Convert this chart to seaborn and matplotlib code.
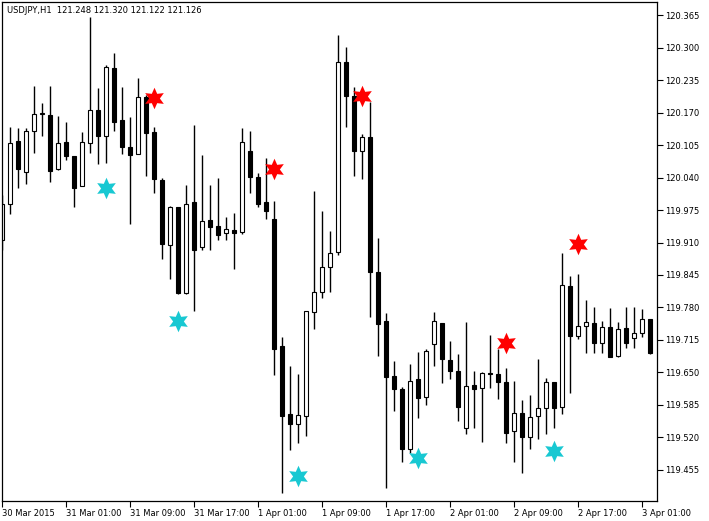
import numpy as np
import pandas as pd
import seaborn as sns
import matplotlib
matplotlib.use("Agg")
import matplotlib.pyplot as plt

opens = [119.915,119.987,120.113,120.051,120.133,120.168,120.165,120.057,120.111,120.083,
         120.023,120.109,120.175,120.123,120.259,120.155,120.101,120.087,120.201,120.131,
         120.035,119.905,119.981,119.809,119.991,119.901,119.955,119.943,119.929,119.935,
         119.931,120.093,120.041,119.991,119.957,119.703,119.566,119.546,119.562,119.771,
         119.811,119.861,119.891,120.271,120.203,120.093,120.121,119.851,119.753,119.643,
         119.616,119.496,119.636,119.600,119.707,119.749,119.675,119.653,119.538,119.624,
         119.618,119.649,119.647,119.631,119.532,119.568,119.520,119.562,119.578,119.631,
         119.580,119.823,119.723,119.743,119.749,119.709,119.741,119.682,119.739,119.719,
         119.729,119.757]
highs = [120.005,120.141,120.139,120.139,120.223,120.189,120.223,120.163,120.151,120.083,
         120.131,120.362,120.219,120.265,120.289,120.221,120.161,120.239,120.205,120.141,
         120.039,119.983,119.981,120.025,120.145,120.085,120.025,120.039,119.961,119.969,
         120.139,120.133,120.049,120.079,119.993,119.721,119.662,119.646,119.773,120.013,
         119.973,119.933,120.325,120.301,120.221,120.127,120.191,119.919,119.769,119.673,
         119.620,119.666,119.690,119.697,119.771,119.749,119.713,119.686,119.751,119.653,
         119.651,119.725,119.697,119.659,119.633,119.594,119.604,119.676,119.638,119.631,
         119.889,119.843,119.847,119.795,119.781,119.753,119.779,119.751,119.781,119.781,
         119.777,119.757]
lows = [119.895,119.967,120.019,120.027,120.089,120.123,120.031,120.055,120.075,119.981,
        120.023,120.089,120.067,120.069,120.133,120.087,119.947,120.087,120.043,120.009,
        119.877,119.837,119.807,119.807,119.773,119.895,119.895,119.915,119.915,119.857,
        119.927,120.009,119.981,119.957,119.645,119.408,119.494,119.508,119.522,119.737,
        119.799,119.811,119.885,120.141,120.043,120.037,119.761,119.682,119.418,119.572,
        119.470,119.488,119.558,119.584,119.662,119.629,119.637,119.552,119.526,119.538,
        119.510,119.618,119.596,119.508,119.470,119.448,119.496,119.516,119.526,119.538,
        119.566,119.608,119.717,119.688,119.688,119.688,119.680,119.680,119.699,119.699,
        119.721,119.686]
closes = [119.987,120.109,120.057,120.133,120.167,120.169,120.053,120.109,120.083,120.019,
          120.111,120.175,120.123,120.261,120.151,120.101,120.085,120.201,120.129,120.037,
          119.907,119.981,119.809,119.987,119.895,119.953,119.941,119.925,119.937,119.929,
          120.111,120.041,119.987,119.973,119.697,119.562,119.546,119.564,119.773,119.811,
          119.861,119.889,120.271,120.203,120.093,120.121,119.851,119.747,119.641,119.616,
          119.496,119.632,119.598,119.693,119.753,119.677,119.653,119.580,119.622,119.616,
          119.649,119.647,119.631,119.528,119.568,119.520,119.560,119.578,119.631,119.578,
          119.825,119.723,119.743,119.751,119.709,119.741,119.680,119.737,119.709,119.729,
          119.757,119.688]

up_star_bars = [19, 34, 45, 63, 72]
up_star_prices = [120.199, 120.057, 120.203, 119.709, 119.907]
dn_star_bars = [13, 22, 37, 52, 69]
dn_star_prices = [120.019, 119.753, 119.442, 119.478, 119.492]

time_labels = ['30 Mar 2015', '31 Mar 01:00', '31 Mar 09:00', '31 Mar 17:00',
               '1 Apr 01:00', '1 Apr 09:00', '1 Apr 17:00', '2 Apr 01:00',
               '2 Apr 09:00', '2 Apr 17:00', '3 Apr 01:00']
price_ticks = [119.455, 119.520, 119.585, 119.650, 119.715, 119.780, 119.845,
               119.910, 119.975, 120.040, 120.105, 120.170, 120.235, 120.300, 120.365]
header = "USDJPY,H1  121.248 121.320 121.122 121.126"

sns.set_style("white")
plt.rcParams['font.family'] = ['DejaVu Sans']

df = pd.DataFrame({"o": opens, "h": highs, "l": lows, "c": closes})
df["x"] = np.arange(len(df))
df["bottom"] = df[["o", "c"]].min(axis=1)
df["height"] = (df["c"] - df["o"]).abs()
df["color"] = np.where(df["c"] >= df["o"], "white", "black")

fig = plt.figure(figsize=(7.09, 5.21), dpi=100)
ax = fig.add_axes([2/709, 1 - 501/521, (657 - 2)/709, (501 - 2)/521])

ax.vlines(df["x"], df["l"], df["h"], color="black", linewidth=1.0, zorder=1)
ax.bar(df["x"], df["height"].clip(lower=0.0005), bottom=df["bottom"], width=0.6,
       color=df["color"], edgecolor="black", linewidth=0.8, zorder=2)

sns.scatterplot(x=up_star_bars, y=up_star_prices, marker=(6, 1, 0), s=240,
                color="#FF0000", linewidth=0, ax=ax, zorder=3)
sns.scatterplot(x=dn_star_bars, y=dn_star_prices, marker=(6, 1, 0), s=240,
                color="#18C8D2", linewidth=0, ax=ax, zorder=3)

ax.set_xlim(0, 81.875)
ax.set_ylim(119.392, 120.392)

ax.set_xticks(np.arange(0, 8 * len(time_labels), 8))
ax.set_xticklabels(time_labels, ha="left", fontsize=6.0)
ax.yaxis.tick_right()
ax.set_yticks(price_ticks)
ax.set_yticklabels([f"{v:.3f}" for v in price_ticks], fontsize=6.0)
ax.tick_params(axis="both", direction="out", length=4, width=0.8, color="black",
               pad=1.5, labelcolor="black")
ax.tick_params(axis="x", bottom=True, pad=1.5)
ax.tick_params(axis="y", right=True, left=False)
for s in ax.spines.values():
    s.set_color("black")
    s.set_linewidth(0.9)
ax.set_xlabel("")
ax.set_ylabel("")
ax.grid(False)

ax.text(0.008, 0.983, header, transform=ax.transAxes, fontsize=6.0, va="center",
        ha="left", color="black")

fig.savefig("out.png", dpi=100, facecolor="white")
